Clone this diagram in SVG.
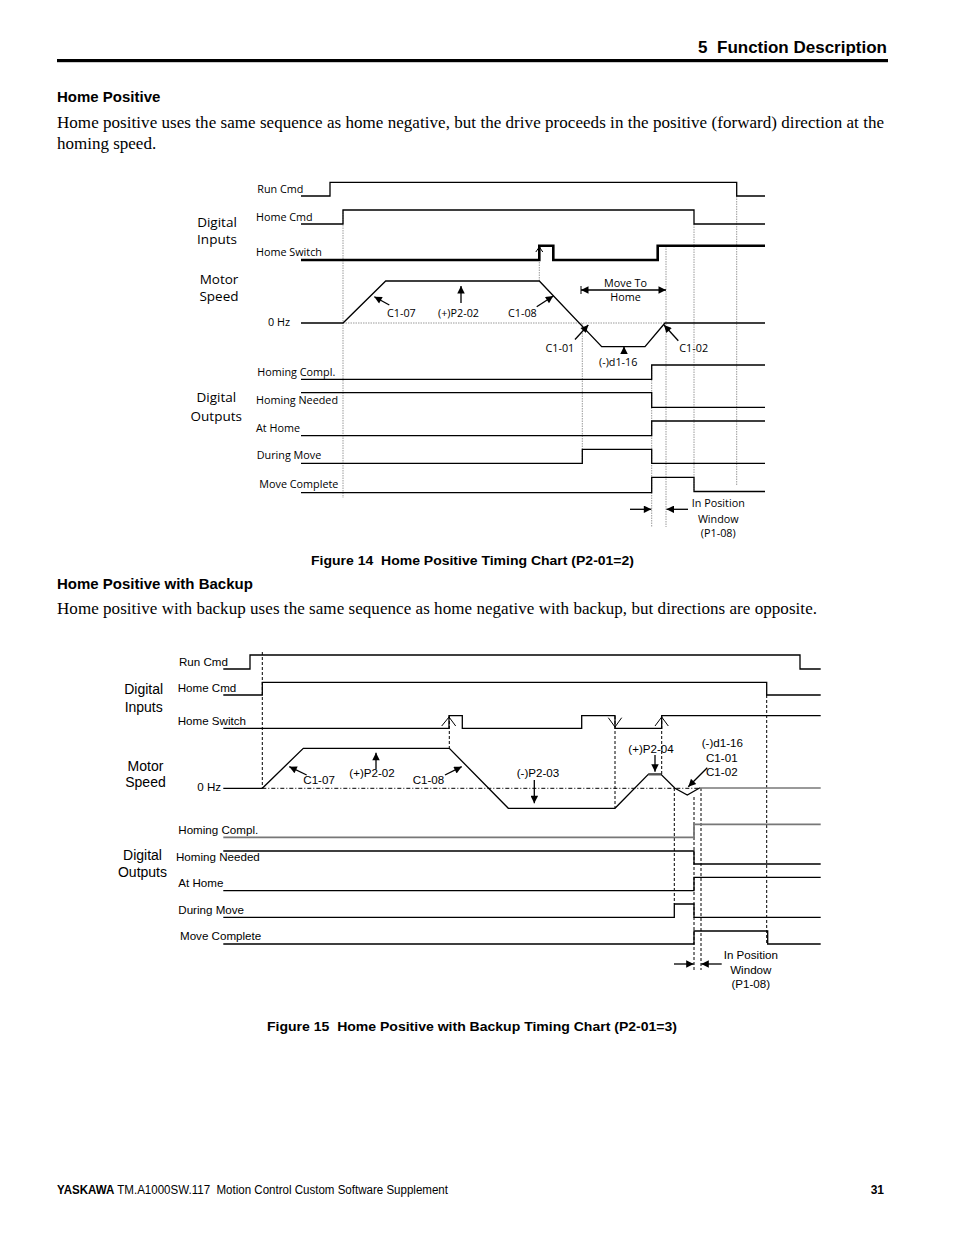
<svg xmlns="http://www.w3.org/2000/svg" width="954" height="1235" viewBox="0 0 954 1235">
<defs>
<marker id="ah" viewBox="0 0 10 10" refX="10" refY="5" markerWidth="10" markerHeight="7.5" markerUnits="userSpaceOnUse" orient="auto-start-reverse"><path d="M0,0 L10,5 L0,10 z" fill="#000"/></marker>
<style>
.sig{fill:none;stroke:#000;stroke-width:1.3}
.sw{fill:none;stroke:#000;stroke-width:2.6}
.thin{fill:none;stroke:#000;stroke-width:1}
.g1{fill:none;stroke:#9a9a9a;stroke-width:1;stroke-dasharray:1.5,1}
.g2{fill:none;stroke:#000;stroke-width:1;stroke-dasharray:3,2}
.dd{fill:none;stroke:#000;stroke-width:1;stroke-dasharray:4,2,1,2}
.arr{fill:none;stroke:#000;stroke-width:1.3;marker-end:url(#ah)}
.t1{font-family:"Open Sans",sans-serif;font-size:10.8px;fill:#000}
.t1b{font-family:"Open Sans",sans-serif;font-size:13.5px;fill:#000;text-anchor:middle}
.t2{font-family:"Liberation Sans",Arial,sans-serif;font-size:11.6px;fill:#000}
.t2b{font-family:"Liberation Sans",Arial,sans-serif;font-size:14px;fill:#000;text-anchor:middle}
.hd{font-family:"Liberation Sans",Arial,sans-serif;font-weight:bold;fill:#000}
.body{font-family:"Liberation Serif","Times New Roman",serif;font-size:17px;fill:#000}
.mid{text-anchor:middle}
</style>
</defs>
<rect width="954" height="1235" fill="#fff"/>

<g id="page-text">
<text class="hd" x="887" y="53" font-size="17" text-anchor="end">5&#160; Function Description</text>
<rect x="57" y="59" width="831" height="3.2" fill="#000"/>
<text class="hd" x="57" y="102" font-size="15">Home Positive</text>
<text class="body" x="57" y="128" textLength="827" lengthAdjust="spacing">Home positive uses the same sequence as home negative, but the drive proceeds in the positive (forward) direction at the</text>
<text class="body" x="57" y="149">homing speed.</text>
<text class="hd" x="311" y="565" font-size="13" textLength="323" lengthAdjust="spacingAndGlyphs">Figure 14&#160; Home Positive Timing Chart (P2-01=2)</text>
<text class="hd" x="57" y="589" font-size="15">Home Positive with Backup</text>
<text class="body" x="57" y="614" textLength="760" lengthAdjust="spacing">Home positive with backup uses the same sequence as home negative with backup, but directions are opposite.</text>
<text class="hd" x="267" y="1031" font-size="13" textLength="410" lengthAdjust="spacingAndGlyphs">Figure 15&#160; Home Positive with Backup Timing Chart (P2-01=3)</text>
<text x="57" y="1194" font-family="Liberation Sans, Arial, sans-serif" font-size="12" textLength="391" lengthAdjust="spacingAndGlyphs"><tspan font-weight="bold">YASKAWA</tspan> TM.A1000SW.117&#160; Motion Control Custom Software Supplement</text>
<text class="hd" x="884" y="1194" font-size="12" text-anchor="end">31</text>
</g>

<g id="fig14">
<g id="f14-labels">
<text class="t1b" x="217" y="226.5">Digital</text>
<text class="t1b" x="217" y="244">Inputs</text>
<text class="t1b" x="219" y="284">Motor</text>
<text class="t1b" x="219" y="301">Speed</text>
<text class="t1b" x="216.3" y="401.7">Digital</text>
<text class="t1b" x="216.3" y="420.7">Outputs</text>
</g>
<g id="f14-guides">
<path class="g1" d="M343,210 V498 M539.3,247 V281 M582.3,323 V463 M651.7,365 V527 M666,246 V527 M694,224 V490 M736.7,196 V485"/>
<path class="g1" d="M343,323 H665"/>
</g>
<g id="f14-run-cmd"><text class="t1" x="257.3" y="193">Run Cmd</text><path class="sig" d="M301,196 H330 V182.3 H736.7 V196 H765"/></g>
<g id="f14-home-cmd"><text class="t1" x="256" y="221">Home Cmd</text><path class="sig" d="M301,224 H343 V210 H694 V224 H765"/></g>
<g id="f14-home-switch"><text class="t1" x="256" y="256">Home Switch</text><path class="sw" d="M301,260 H539.3 V245.7 H553.3 V260 H657.7 V245.7 H765"/><path class="thin" d="M535.8,252 L539.3,247 L542.8,252"/></g>
<g id="f14-motor-speed"><text class="t1" x="268" y="325.7">0 Hz</text><path class="sig" d="M301,323 H343 L385.7,281 H539.3 L601.7,346.7 H645 L665,323 H765"/>
<text class="t1" x="387" y="316.7">C1-07</text>
<text class="t1" x="438" y="316.7">(+)P2-02</text>
<text class="t1" x="508" y="316.7">C1-08</text>
<text class="t1 mid" x="625.5" y="286.7">Move To</text>
<text class="t1 mid" x="625.5" y="301">Home</text>
<text class="t1" x="545.5" y="351.7">C1-01</text>
<text class="t1" x="679.3" y="351.7">C1-02</text>
<text class="t1" x="599" y="366">(-)d1-16</text>
</g>
<g id="f14-homing-compl"><text class="t1" x="257.3" y="376">Homing Compl.</text><path class="sig" d="M301,379.3 H651.7 V365 H765"/></g>
<g id="f14-homing-needed"><text class="t1" x="256" y="404">Homing Needed</text><path class="sig" d="M301,392.7 H651.7 V407.3 H765"/></g>
<g id="f14-at-home"><text class="t1" x="256" y="431.7">At Home</text><path class="sig" d="M301,435.7 H651.7 V421 H765"/></g>
<g id="f14-during-move"><text class="t1" x="256.7" y="459.3">During Move</text><path class="sig" d="M301,463.3 H582.3 V449.3 H651.7 V463.3 H765"/></g>
<g id="f14-move-complete"><text class="t1" x="259.3" y="488.3">Move Complete</text><path class="sig" d="M301,492.7 H651.7 V477.3 H694 V491.5 H765"/></g>
<g id="f14-in-position"><text class="t1 mid" x="718.3" y="507.3">In Position</text><text class="t1 mid" x="718.3" y="522.7">Window</text><text class="t1 mid" x="718.3" y="537">(P1-08)</text></g>
</g>

<g id="fig15">
<g id="f15-labels">
<text class="t2b" x="143.7" y="694">Digital</text>
<text class="t2b" x="143.7" y="712">Inputs</text>
<text class="t2b" x="145.5" y="771">Motor</text>
<text class="t2b" x="145.5" y="787">Speed</text>
<text class="t2b" x="142.5" y="860">Digital</text>
<text class="t2b" x="142.5" y="877">Outputs</text>
</g>
<g id="f15-guides">
<path class="g2" d="M262.3,652 V788 M449.3,716 V748 M615,716 V808 M661.7,716 V774 M674.3,788 V904 M694,797 V970 M701,788 V970 M766.7,695 V944"/>
<path class="dd" d="M262.3,788.3 H700"/>
</g>
<g id="f15-run-cmd"><text class="t2" x="179" y="666">Run Cmd</text><path class="sig" d="M223.3,669 H250 V655 H800 V669 H820.7"/></g>
<g id="f15-home-cmd"><text class="t2" x="177.7" y="692.3">Home Cmd</text><path class="sig" d="M223.3,695 H262.3 V682.3 H766.7 V695 H820.7"/></g>
<g id="f15-home-switch"><text class="t2" x="177.7" y="725">Home Switch</text><path class="sig" stroke-width="1.6" d="M223.3,728.3 H449 V715.7 H462.3 V728.3 H581.7 V715.7 H615 V728.3 H661.7 V715.7 H820.7"/>
<path class="thin" d="M441.7,726 L449,717 L455.7,726 M608.3,717.7 L615,727 L621.7,717.7 M655,726 L661.7,717 L668.3,726"/></g>
<g id="f15-motor-speed"><text class="t2" x="197.3" y="791">0 Hz</text>
<path class="sig" d="M223.3,788.3 H262.3 L303.3,748.3 H449.3 L508.3,808.3 H615 L648.3,774.3 H661 L675,788.3 L687.3,795 L700,787.8"/>
<path fill="none" stroke="#555" stroke-width="2.4" d="M648.3,774.3 H661"/>
<path fill="none" stroke="#777" stroke-width="1.6" d="M700,788 H820.7"/>
<text class="t2" x="303.3" y="784">C1-07</text>
<text class="t2" x="349.3" y="777.3">(+)P2-02</text>
<text class="t2" x="412.7" y="784">C1-08</text>
<text class="t2" x="516.7" y="777.3">(-)P2-03</text>
<text class="t2" x="628.3" y="752.7">(+)P2-04</text>
<text class="t2" x="701.7" y="746.7">(-)d1-16</text>
<text class="t2" x="706" y="761.7">C1-01</text>
<text class="t2" x="706" y="776">C1-02</text>
</g>
<g id="f15-homing-compl"><text class="t2" x="178.3" y="834.3">Homing Compl.</text><path fill="none" stroke="#777" stroke-width="1.8" d="M223.3,837.3 H694 V824.3 H820.7"/></g>
<g id="f15-homing-needed"><text class="t2" x="176" y="860.7">Homing Needed</text><path class="sig" d="M223.3,851 H694 V864 H820.7"/></g>
<g id="f15-at-home"><text class="t2" x="178.3" y="887.3">At Home</text><path class="sig" d="M223.3,890.7 H694 V877.3 H820.7"/></g>
<g id="f15-during-move"><text class="t2" x="178.3" y="914">During Move</text><path class="sig" d="M223.3,917.3 H674.3 V904 H694 V917.3 H820.7"/></g>
<g id="f15-move-complete"><text class="t2" x="180" y="940">Move Complete</text><path class="sig" d="M223.3,944 H694 V931 H767.7 V944 H820.7"/></g>
<g id="f15-in-position"><text class="t2 mid" x="750.8" y="959.3">In Position</text><text class="t2 mid" x="750.8" y="974">Window</text><text class="t2 mid" x="750.8" y="988.3">(P1-08)</text></g>
</g>

<g id="connectors">
<path class="arr" d="M389.3,305 L374.3,296.7"/>
<path class="arr" d="M461,303 V286"/>
<path class="arr" d="M536.7,306.7 L553.3,296"/>
<path class="arr" d="M575,339.5 L588.3,325"/>
<path class="arr" d="M678.3,340.7 L664,325"/>
<path class="arr" d="M624,353 V346.5"/>
<path class="arr" style="marker-start:url(#ah)" d="M581,290 H666"/>
<path class="thin" d="M581,286 V294"/>
<path class="arr" d="M630,509.3 H651.3"/>
<path class="arr" d="M688,509.3 H666.5"/>
<path class="arr" d="M306.7,775 L289.3,766.7"/>
<path class="arr" d="M376,769.3 V752.7"/>
<path class="arr" d="M445,775 L461.7,766.7"/>
<path class="arr" d="M534.3,780 V803.3"/>
<path class="arr" d="M655,755 V771.7"/>
<path class="arr" d="M707.3,767.7 L688.3,786.7"/>
<path class="arr" d="M674,964 H693.7"/>
<path class="arr" d="M721.7,964 H701.3"/>
</g>
</svg>
